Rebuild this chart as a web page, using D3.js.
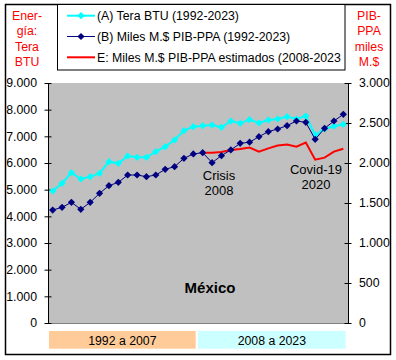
<!DOCTYPE html>
<html><head><meta charset="utf-8">
<script src="https://cdn.jsdelivr.net/npm/d3@7"></script>
<style>body{margin:0;background:#fff}svg{display:block;font-family:Arial,"Liberation Sans",sans-serif}</style>
</head><body>
<svg id="c" width="396" height="360"></svg>
<script>
const years = d3.range(1992, 2024);
const energyTBTU = [4950,5238,5638,5400,5488,5613,6050,5988,6263,6213,6213,6425,6613,6863,7213,7363,
                    7400,7425,7338,7575,7488,7625,7500,7613,7650,7738,7650,7763,7050,7275,7380,7450];
const gdpPPA = [1412,1446,1508,1421,1508,1621,1717,1758,1850,1850,1829,1850,1921,1954,2058,2113,
                2129,2004,2092,2163,2246,2260,2329,2392,2425,2467,2525,2508,2296,2433,2525,2608];
const gdpEstYears = d3.range(2008, 2024);
const gdpEst = [2129,2129,2137,2163,2175,2194,2142,2183,2219,2231,2204,2256,2042,2067,2142,2179];
const leftTicks = d3.range(0, 9001, 1000);
const rightTicks = d3.range(0, 3001, 500);
const legendLabels = ["(A) Tera BTU (1992-2023)","(B) Miles M.$ PIB-PPA (1992-2023)","E: Miles M.$ PIB-PPA estimados (2008-2023"];
const leftTitle = ["Ener-","gía:","Tera","BTU"];
const rightTitle = ["PIB-","PPA","miles","M.$"];
const periods = ["1992 a 2007","2008 a 2023"];

const loc = d3.formatLocale({decimal:",",thousands:".",grouping:[3],currency:["",""]});
const fmt = loc.format(",");

const svg = d3.select("#c");
const L = 48, R = 348, T = 83, B = 323;
const x = d3.scaleBand().domain(years).range([L, R]);
const cx = d => x(d) + x.bandwidth()/2;
const yL = d3.scaleLinear().domain([0, 9000]).range([B, T]);
const yR = d3.scaleLinear().domain([0, 3000]).range([B, T]);

// frame
svg.append("rect").attr("x",5.5).attr("y",4.5).attr("width",385).attr("height",350)
  .attr("fill","#fff").attr("stroke","#000").attr("stroke-width",1.5);

// plot area
svg.append("rect").attr("x",L).attr("y",T).attr("width",R-L).attr("height",B-T).attr("fill","#C0C0C0");
svg.append("line").attr("x1",L).attr("x2",R).attr("y1",B+0.5).attr("y2",B+0.5).attr("stroke","#808080");

// axes
const axL = svg.append("g").attr("transform",`translate(${L},0)`)
  .call(d3.axisLeft(yL).tickValues(leftTicks).tickFormat(fmt).tickSizeInner(4).tickSizeOuter(0).tickPadding(7));
const axR = svg.append("g").attr("transform",`translate(${R},0)`)
  .call(d3.axisRight(yR).tickValues(rightTicks).tickFormat(fmt).tickSizeInner(4).tickSizeOuter(0).tickPadding(7));
[axL, axR].forEach(a => {
  a.select(".domain").attr("stroke","#000");
  a.selectAll(".tick line").attr("stroke","#000").attr("x1",-3.5).attr("x2",3.5);
  a.selectAll(".tick text").attr("font-size",12.3).attr("fill","#000").attr("font-family","Arial, 'Liberation Sans', sans-serif");
});

// lines
const lineE = d3.line().x(d => cx(d[0])).y(d => yR(d[1]));
svg.append("path").datum(gdpEstYears.map((y,i)=>[y,gdpEst[i]])).attr("d",lineE)
  .attr("fill","none").attr("stroke","#FF0000").attr("stroke-width",2);

const lineA = d3.line().x(d => cx(d[0])).y(d => yL(d[1]));
const dA = years.map((y,i)=>[y,energyTBTU[i]]);
svg.append("path").datum(dA).attr("d",lineA).attr("fill","none").attr("stroke","#00FFFF").attr("stroke-width",2);

const diamond = d3.symbol().type(d3.symbolSquare).size(26);
svg.append("g").selectAll("path").data(dA).join("path").attr("d",diamond)
  .attr("transform",d=>`translate(${cx(d[0])},${yL(d[1])}) rotate(45)`).attr("fill","#00FFFF");

const dB = years.map((y,i)=>[y,gdpPPA[i]]);
svg.append("path").datum(dB).attr("d",lineE).attr("fill","none").attr("stroke","#000080").attr("stroke-width",1);
svg.append("g").selectAll("path").data(dB).join("path").attr("d",diamond)
  .attr("transform",d=>`translate(${cx(d[0])},${yR(d[1])}) rotate(45)`).attr("fill","#000080");

// annotations
const ann = svg.append("g").attr("font-size",13).attr("fill","#000").attr("text-anchor","middle");
ann.append("text").attr("x",219).attr("y",179.5).text("Crisis");
ann.append("text").attr("x",219).attr("y",194.5).text("2008");
ann.append("text").attr("x",316).attr("y",173.5).text("Covid-19");
ann.append("text").attr("x",316).attr("y",188.5).text("2020");
svg.append("text").attr("x",210).attr("y",293).attr("text-anchor","middle")
  .attr("font-size",15).attr("font-weight","bold").text("México");

// period bars
const pb = [[L+1, 195.7, "#FFCC99"],[198, 345.7, "#CCFFFF"]];
pb.forEach((p,i)=>{
  svg.append("rect").attr("x",p[0]).attr("y",331).attr("width",p[1]-p[0]).attr("height",17.7).attr("fill",p[2]);
  svg.append("text").attr("x",(p[0]+p[1])/2).attr("y",344.5).attr("text-anchor","middle")
    .attr("font-size",12.3).attr("fill","#000").text(periods[i]);
});

// titles
leftTitle.forEach((t,i)=>svg.append("text").attr("x",27).attr("y",19.5+i*15.5).attr("text-anchor","middle")
  .attr("font-size",12.3).attr("fill","#FF0000").text(t));
rightTitle.forEach((t,i)=>svg.append("text").attr("x",369).attr("y",19.5+i*15.5).attr("text-anchor","middle")
  .attr("font-size",12.3).attr("fill","#FF0000").text(t));

// legend
svg.append("rect").attr("x",57.5).attr("y",4.5).attr("width",287.5).attr("height",65.5)
  .attr("fill","#fff").attr("stroke","#000").attr("stroke-width",1);
const legColors = ["#00FFFF","#000080","#FF0000"];
const legW = [2,1,2];
legendLabels.forEach((t,i)=>{
  const yy = 15.7 + i*20.8;
  svg.append("line").attr("x1",67).attr("x2",95).attr("y1",yy).attr("y2",yy)
    .attr("stroke",legColors[i]).attr("stroke-width",legW[i]);
  if (i<2) svg.append("path").attr("d",diamond).attr("transform",`translate(81,${yy}) rotate(45)`).attr("fill",legColors[i]);
  svg.append("text").attr("x",97).attr("y",yy+4.5).attr("font-size",12.3).attr("fill","#000").text(t);
});
</script>
</body></html>
